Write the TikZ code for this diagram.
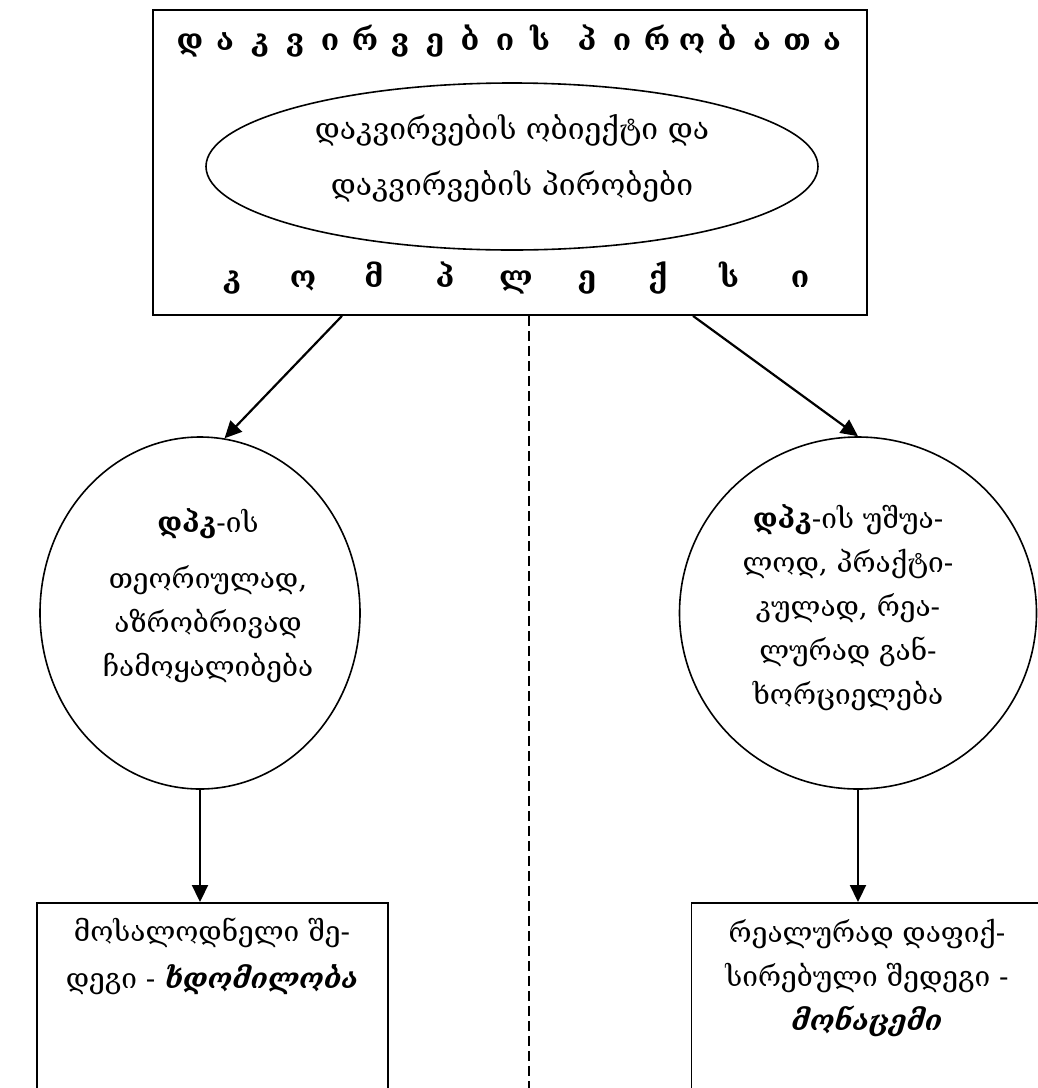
\documentclass[tikz,border=0pt]{standalone}
\usepackage{fontspec}
\setmainfont{DejaVu Serif}
\usetikzlibrary{positioning, shapes.geometric, arrows.meta}

\begin{document}
\begin{tikzpicture}[
    x=0.5pt, y=-0.5pt,
    >={Triangle[length=8.5pt, width=8pt]},
    font=\fontsize{14}{22}\selectfont,
    frame/.style={rectangle, draw=black, line width=0.9pt, inner sep=0pt},
    oval/.style={ellipse, draw=black, line width=0.8pt, inner sep=0pt},
    letter/.style={inner sep=0pt, anchor=base, font=\fontsize{15}{18}\selectfont\bfseries},
    body/.style={align=center, inner sep=0pt},
    arr/.style={->, line width=1.1pt},
    divider/.style={dash pattern=on 5pt off 2.5pt, line width=0.6pt}
]
\useasboundingbox (0,0) rectangle (1038,1088);
\clip (0,0) rectangle (1038,1088);

% complex of observation conditions
\node[frame, minimum width=357pt, minimum height=152.5pt] (cond) at (510,162.5) {};
\foreach \l [count=\i] in {დ,ა,კ,ვ,ი,რ,ვ,ე,ბ,ი,ს}
    \node[letter] (topA\i) at ({190+35*(\i-1)},50) {\l};
\foreach \l [count=\i] in {პ,ი,რ,ო,ბ,ა,თ,ა}
    \node[letter] (topB\i) at ({587+35*(\i-1)},50) {\l};
\node[oval, minimum width=306pt, minimum height=83.5pt] (object) at (512,166.5) {};
\node[body, font=\fontsize{15}{28}\selectfont] (objectText) at (512,158)
    {დაკვირვების ობიექტი და\\დაკვირვების პირობები};
\foreach \l [count=\i] in {კ,ო,მ,პ,ლ,ე,ქ,ს,ი}
    \node[letter] (bot\i) at ({232+71*(\i-1)},287) {\l};

% two branches
\node[oval, minimum width=160pt, minimum height=176pt] (theory) at (200,613) {};
\node[body] (theoryText) at (208,596)
    {\textbf{დპკ}-ის\\[6pt]თეორიულად,\\აზრობრივად\\ჩამოყალიბება};

\node[oval, minimum width=178.5pt, minimum height=176pt] (practice) at (858,613) {};
\node[body] (practiceText) at (848,608)
    {\textbf{დპკ}-ის უშუა-\\ლოდ, პრაქტი-\\კულად, რეა-\\ლურად გან-\\ხორციელება};

\node[frame, minimum width=175.5pt, minimum height=104pt, anchor=north] (expected) at (212.5,902) {};
\node[body, font=\fontsize{14}{23.5}\selectfont] (expectedText) at (212,956)
    {მოსალოდნელი შე-\\დეგი - \textbf{\textit{ხდომილობა}}};

\node[frame, minimum width=175.5pt, minimum height=104pt, anchor=north] (result) at (867,902) {};
\node[body] (resultText) at (867,978)
    {რეალურად დაფიქ-\\სირებული შედეგი -\\\textbf{\textit{მონაცემი}}};

\draw[arr] ([xshift=-84pt]cond.south) -- (theory.82);
\draw[arr] ([xshift=91.5pt]cond.south) -- (practice.north);
\draw[arr] (theory.south) -- (theory.south |- expected.north);
\draw[arr] (practice.south) -- (practice.south |- result.north);

\coordinate (axisEnd) at (529,1095);
\draw[divider] ([xshift=9.5pt]cond.south) -- (cond.south -| axisEnd) -- (axisEnd);
\end{tikzpicture}
\end{document}
